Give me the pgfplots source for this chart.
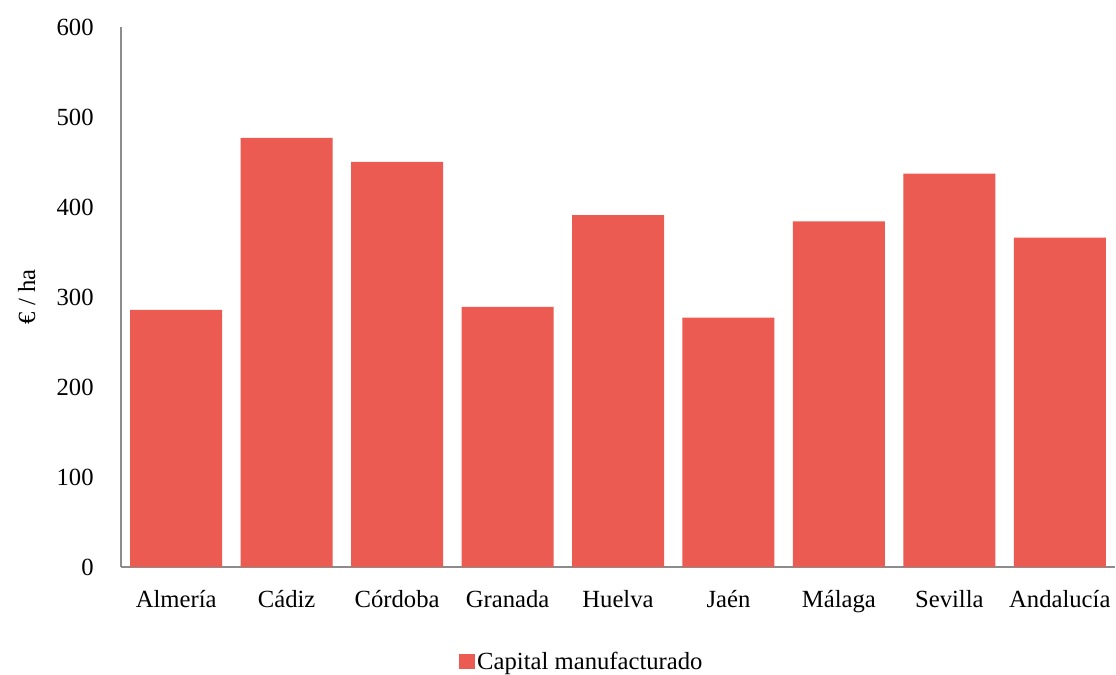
\documentclass[border=0pt]{standalone}
\usepackage{pgfplots}
\pgfplotsset{compat=1.18}
\usepackage{fontspec}
\setmainfont{Liberation Serif}
\definecolor{barred}{HTML}{EB5B51}
\definecolor{axgray}{HTML}{8C8C8C}
\begin{document}
\begin{tikzpicture}
\begin{axis}[
  scale only axis,
  width=745.5pt, height=405pt,
  xmin=-0.5, xmax=8.5,
  ymin=0, ymax=600,
  ytick={0,100,...,600},
  xtick=data,
  xticklabels={Almería,Cádiz,Córdoba,Granada,Huelva,Jaén,Málaga,Sevilla,Andalucía},
  axis x line*=bottom,
  axis y line*=left,
  axis line style={axgray, line width=0.9pt, -},
  major tick length=0pt,
  tick label style={font=\fontsize{18.5}{21}\selectfont, black},
  yticklabel style={xshift=-17pt},
  xticklabel style={yshift=-14pt},
  /pgf/number format/assume math mode=true,
  ylabel={€ / ha},
  ylabel style={font=\fontsize{18.5}{21}\selectfont, yshift=9pt},
  ybar, bar width=0.833,
  clip=false,
  legend style={draw=none, at={(0.464,-0.176)}, anchor=center, font=\fontsize{18.5}{21}\selectfont},
  legend image code/.code={\fill[barred] (0pt,-5.5pt) rectangle (11.5pt,6pt);},
]
\addplot[fill=barred, draw=none] coordinates {
(0,285.6) (1,476.7) (2,450) (3,289) (4,391) (5,277) (6,384) (7,437) (8,366)};
\addlegendentry{Capital manufacturado}
\end{axis}
\pgfresetboundingbox
\useasboundingbox ([shift={(-90.75pt,-81pt)}]current axis.south west) rectangle ([shift={(0.75pt,20.25pt)}]current axis.north east);
\end{tikzpicture}
\end{document}
